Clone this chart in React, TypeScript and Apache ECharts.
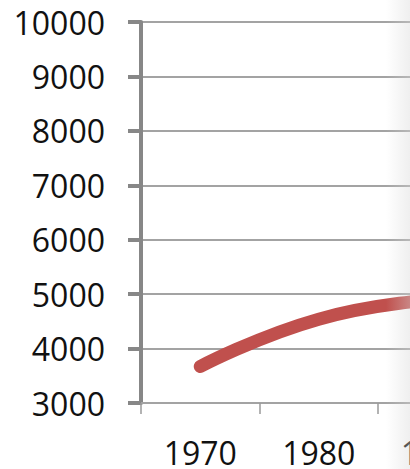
import React, { useEffect, useRef } from "react";
import * as echarts from "echarts";

const categories = ["1970", "1980", "1990"];
const seriesValues = [3670, 4540, 4900];
const yMin = 3000;
const yMax = 10000;
const yStep = 1000;

export default function App() {
  const ref = useRef<HTMLDivElement>(null);
  useEffect(() => {
    if (!ref.current) return;
    const chart = echarts.init(ref.current, null, { renderer: "svg" });
    const font = "'Open Sans', 'Liberation Sans', sans-serif";
    chart.setOption({
      animation: false,
      backgroundColor: "#ffffff",
      grid: { left: 141, top: 22, height: 381, width: 355.5, containLabel: false },
      xAxis: {
        type: "category",
        data: categories,
        boundaryGap: true,
        axisLine: { show: true, lineStyle: { color: "#a3a3a3", width: 2 } },
        axisTick: { show: true, interval: 0, length: 11, lineStyle: { color: "#9a9a9a", width: 1.5 } },
        axisLabel: {
          color: "#111",
          fontSize: 32,
          lineHeight: 28,
          fontFamily: font,
          margin: 35,
          interval: 0,
        },
        splitLine: { show: false },
      },
      yAxis: {
        type: "value",
        min: yMin,
        max: yMax,
        interval: yStep,
        axisLine: { show: true, lineStyle: { color: "#878787", width: 4 } },
        axisTick: { show: true, length: 13, lineStyle: { color: "#878787", width: 4 } },
        axisLabel: {
          color: "#111",
          fontSize: 32,
          fontFamily: font,
          margin: 36,
          formatter: (v: number) => String(v),
        },
        splitLine: { show: true, lineStyle: { color: "#a3a3a3", width: 2 } },
      },
      series: [
        {
          type: "line",
          data: seriesValues,
          smooth: true,
          symbol: "none",
          lineStyle: { color: "#c0504d", width: 13, cap: "round", join: "round" },
          z: 3,
        },
      ],
      graphic: [
        {
          type: "rect",
          z: 100,
          shape: { x: 386, y: 0, width: 24, height: 469 },
          style: {
            fill: new echarts.graphic.LinearGradient(0, 0, 1, 0, [
              { offset: 0, color: "rgba(215,215,215,0)" },
              { offset: 1, color: "rgba(215,215,215,0.4)" },
            ]),
          },
          silent: true,
        },
      ],
    });
    return () => chart.dispose();
  }, []);
  return (
    <div
      style={{
        position: "fixed",
        left: 0,
        top: 0,
        width: 410,
        height: 469,
        overflow: "hidden",
        background: "#fff",
      }}
    >
      <div ref={ref} style={{ width: 600, height: 469 }} />
    </div>
  );
}
